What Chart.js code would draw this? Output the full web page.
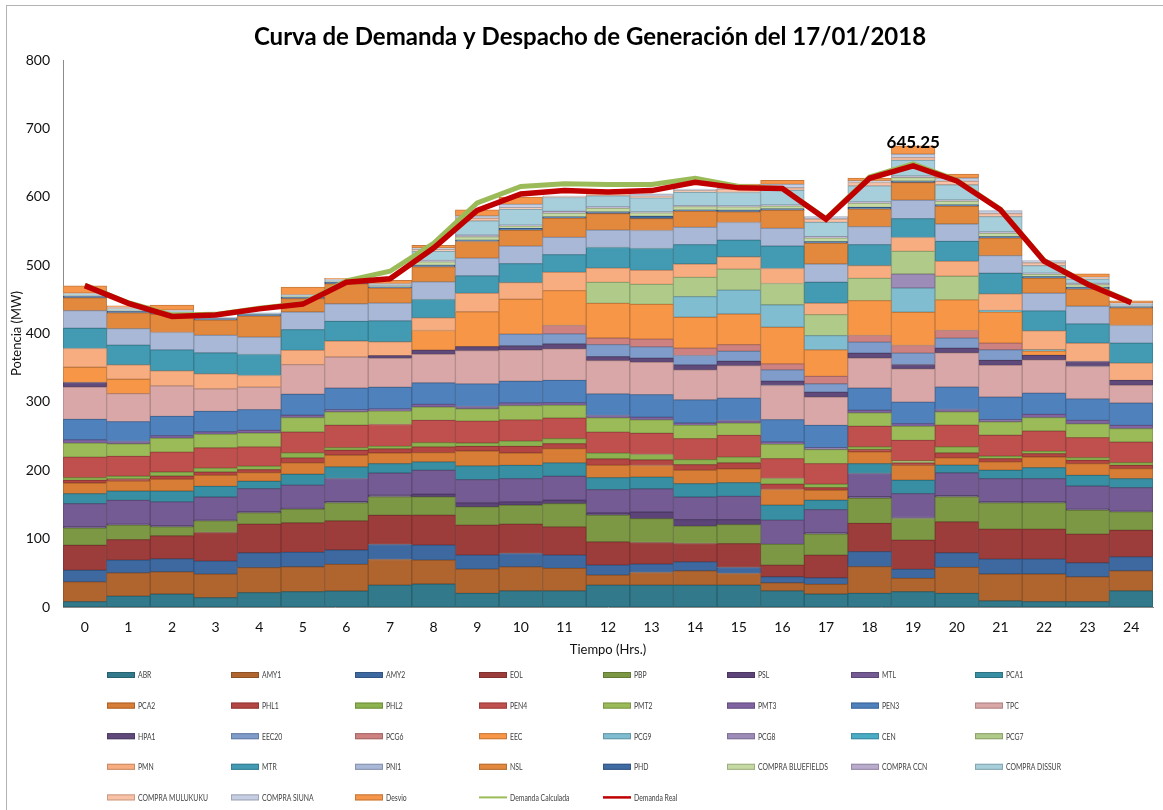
<!DOCTYPE html>
<html>
  <head>
    <meta charset="utf-8">
    <title>Curva de Demanda y Despacho</title>
    <script src="https://cdn.jsdelivr.net/npm/chart.js@4.4.1/dist/chart.umd.min.js"></script>
    <style>
      body { margin: 0; background: #fff; }
      #frame { position: absolute; left: 6px; top: 5px; width: 1180px; height: 830px; border: 1px solid #b3b3b3; }
      #wrap { position: absolute; left: 0; top: 0; width: 1163px; height: 810px; }
    </style>
  </head>
  <body>
    <div id="frame"></div>
    <div id="wrap"><canvas id="despacho" width="1163" height="810"></canvas></div>

    <script type="text/javascript">
    var horas = ["0","1","2","3","4","5","6","7","8","9","10","11","12","13","14","15","16","17","18","19","20","21","22","23","24"]

    // generacion por planta (MW), hora 0 a 24
    var abr   = [7.8,16,19,13.6,21,22.4,23.4,32,33.6,20,23.8,23.8,32,32,32,32,23.8,19,20,22.4,20,9.2,7.8,7.8,23.8]
    var amy1  = [29,34,32.6,34.5,36.5,36.5,39,37.5,35,35.5,35,32.6,14.6,18.5,21,17,11.7,14.1,39,19.5,38,39,40.4,36.5,29.2]
    var amy2  = [17,18.5,19,19,21.9,21,21,21.9,21.9,20.4,19.5,19.5,14.6,12.2,13.1,8.8,8.8,9.7,21.9,13.1,21.4,21.9,21.9,20.4,20.4]
    var eol   = [36.5,30,33.6,41.8,41.8,43.3,42.8,42.8,43.8,43.8,42.8,41.4,34,31.6,26.8,35,17,33,41.4,42.8,45.3,43.8,43.8,41.8,38.9]
    var pbp   = [25.3,21,13,17,16.5,19.5,26.3,26.8,26.8,26.8,27.7,34,39,35,25.3,27.7,30.2,30.7,36.5,31.6,36.5,38.4,38.4,35,26.8]
    var psl   = [1.5,1.5,1.5,1,1.5,1.5,1.5,2.4,3.9,5.8,4.9,4.9,3.4,9.7,9.7,7.3,0,2,2.4,1.5,1.5,1.5,1.5,1.5,1]
    var mtl   = [34,35,35,34,34,34,34,32.6,35,34,34,35,34,34,33,34,35.5,34,34,35,33.6,34,34,34,34.5]
    var pca1  = [14.6,13.6,16,15.6,10.7,16,17,13.6,12.2,20,19.5,19.5,17.5,17,19.5,20,21.9,13.6,14.6,19.5,11.2,12.2,16,15.6,13.1]
    var pca2  = [15.6,14.6,17,16,12.7,16.5,17,15.6,13.6,21.9,18,20.9,18,17,19.5,20.4,22.9,14.6,17,21.9,10.7,12.2,15.6,17,14.6]
    var phl1  = [3.9,3,4.9,4.9,4.4,7.3,7.3,6.3,8.3,6.8,9.7,7.3,9.7,8.3,8.3,8.8,7.8,3.9,3.4,3.4,7.3,4.9,4.9,4.9,4.9]
    var phl2  = [3.9,4,5.8,5.8,4.9,7.3,3.9,3.4,6.3,4.9,7.8,7.3,8.3,7.8,7.3,8.3,8.3,4.9,3.9,2.9,8.8,3.4,3.4,3.9,3.9]
    var pen4  = [30.2,29,29,29.7,28.2,30.7,32.6,32,32.6,32,31,30.2,30.7,31,30.7,31.6,29.2,30.2,30.2,30.2,31.6,30.7,29.7,29.2,30.2]
    var pmt2  = [20.4,18.5,20.4,19.5,20.4,21,19.5,19.5,19.5,18,20.9,18.5,20.9,19.5,19.5,18,20.9,20.4,19.5,20.4,19.5,19.5,19.5,20.4,19.5]
    var pmt3  = [4.9,3.4,3.9,3.9,3.9,3.4,3.4,3.4,3.9,3.4,3.9,3.9,3.4,3.9,3.4,3.9,3.4,2.9,3.9,3.9,3.4,3.4,4.9,4.9,4.9]
    var pen3  = [29.7,29,28,29.7,30.2,30.7,31.6,31.6,31.6,33,31.6,32.6,31.6,33,34,32.6,32.6,32.6,32.6,31.6,33,33,31.1,31.6,32.6]
    var tpc   = [47.2,41,44.8,33,33,43.3,45.3,42.3,41.4,48.7,45.7,46.2,48.7,47.2,43.8,47.7,50,41.4,43.8,48.7,50,46.2,48.7,47.2,25.8]
    var hpa1  = [6.8,0,0,0,0,0,0,3.9,6.3,5.8,6.3,7.3,5.8,6.3,7.3,6.3,6.3,7.3,7.3,6.3,6.8,7.3,6.3,7.3,7.3]
    var eec20 = [0,0,0,0,0,0,0,0,0,0,17,14.6,17.5,16.5,13.6,14.6,16.5,12.2,16,16.5,14.6,15.6,0,0,0]
    var pcg6  = [0,0,0,0,0,0,0,0,0,0,0,12.2,9.7,11.2,10.7,9.7,8.8,10.7,9.7,11.2,11.2,9.7,0,0,0]
    var eec   = [22.4,21,0,0,0,0,0,0,28.7,51,51,51,50.6,51,45.3,44.8,53.5,38.9,51,48.7,44.8,45.3,6.3,0,0]
    var pcg9  = [0,0,0,0,0,0,0,0,0,0,0,0,0,0,30.2,35,33,20.9,0,35.5,0,0,0,0,0]
    var pcg8  = [0,0,0,0,0,0,0,0,0,0,0,0,0,0,0,0,0,0,0,20.4,0,0,0,0,0]
    var cen   = [0,0,0,0,0,0,0,0,0,0,0,0,0,0,0,0,0,0,0,0,0,2.4,2,0,0]
    var pcg7  = [0,0,0,0,0,0,0,0,0,0,0,0,30.7,29.2,28.2,30.7,31,30.7,32.6,33,34.5,0,0,0,0]
    var pmn   = [27.3,21,21.9,21.9,17,21,23.4,20.4,18.5,26.8,24.3,26.8,20.9,20.4,19.5,18,21.9,16.5,18.5,20.4,21.9,24.3,27.7,26.8,25.3]
    var mtr   = [29.7,29,30.7,31,30.7,30.2,28.7,30.7,26.8,25.8,27.7,25.8,30.2,32,28.2,24.3,33,30.7,30.7,27.7,29.2,30.2,29.2,28.2,29.2]
    var pni1  = [25.8,24,25.3,25.3,25.3,25.8,25.8,25.8,25.8,25.8,25.8,25.3,25.3,26.3,25.3,25.8,25.8,26.8,26.3,26.8,25.3,25.8,25.8,25.8,25.8]
    var nsl   = [18.5,23,26.8,22.4,30.7,19.5,29.2,21.9,21.9,24.3,22.9,27.7,24.3,17.5,23.4,15.6,26.3,30.2,25.8,25.8,25.8,25.8,21.9,25.3,25.8]
    var phd   = [2.9,2.4,1.5,2.4,2.4,2.4,2.4,2,2.4,2,2.9,2.4,2.4,3.4,2,2.4,2.4,2.4,2.4,2.4,2.4,2,2.4,2.4,2]
    var cBluefields = [0.5,1,1,0.5,0.5,1,1,1.5,4.9,4.9,3.4,4.9,5.4,4.9,4.9,4.9,3.9,5.4,5.8,4.9,4.9,4.9,3.4,3.9,1]
    var cCcn        = [0.5,0.5,0.5,0.5,0.5,0.5,0.5,0.5,2,2.4,1.5,2.9,2,1.5,1.5,1.5,1.5,2,2.4,2.4,2,2,1.5,2,0.5]
    var cDissur     = [2,2,1.5,0,1,1,1.5,1.5,13.6,20.9,22.9,20.4,16,20.4,19.5,19.5,21.4,20.9,23.4,22.9,22.4,22.4,11.2,6.3,1.5]
    var cMulukuku   = [0.5,1,0.5,0,0,0.5,0.5,0.5,2.4,3.9,2.4,1.5,3.4,2.4,2.4,4.9,3.9,4.9,4.9,3.9,4.9,4.4,3.9,1.5,1]
    var cSiuna      = [0.5,1,1,0.5,0.5,0.5,0.5,0.5,2.4,3.4,4.9,1,3,3.4,2.4,4.9,4.9,3.4,2.4,4.9,4.9,4.4,3.4,1,1]
    var desvio      = [10.7,2.4,7.3,0,0,11.2,1.5,4.9,3.9,8.8,10.7,0,2,0,0,2.4,5.8,0,3.9,12.2,5.8,0,0,4.9,3.4]

    var demandaCalculada = [471,445,427,428,437,444,477,491,532,591,615,619,618,618,627,615,612,568,629,648,624,582,507,473,446]
    var demandaReal      = [470,444,425,427,436,443,475,480,525,580,604,609,607,609,621,613,612,567,627,645.25,623,581,506,472,445]
    var picoHora = 19

    // orden de apilado = orden de la leyenda
    var plantas = [
      ["ABR", abr, "#31798b"], ["AMY1", amy1, "#b0652f"], ["AMY2", amy2, "#3e69a0"], ["EOL", eol, "#9d3d3b"],
      ["PBP", pbp, "#7d9845"], ["PSL", psl, "#5c4479"], ["MTL", mtl, "#745b93"], ["PCA1", pca1, "#388ea3"],
      ["PCA2", pca2, "#d77d35"], ["PHL1", phl1, "#b34542"], ["PHL2", phl2, "#8cb34f"], ["PEN4", pen4, "#c0504d"],
      ["PMT2", pmt2, "#9bbb59"], ["PMT3", pmt3, "#8064a2"], ["PEN3", pen3, "#4f81bd"], ["TPC", tpc, "#d9a7a7"],
      ["HPA1", hpa1, "#604a7b"], ["EEC20", eec20, "#7f9ccb"], ["PCG6", pcg6, "#cd8180"], ["EEC", eec, "#f79646"],
      ["PCG9", pcg9, "#80bdd0"], ["PCG8", pcg8, "#9e8cb8"], ["CEN", cen, "#4bacc6"], ["PCG7", pcg7, "#afca89"],
      ["PMN", pmn, "#f8ad80"], ["MTR", mtr, "#429bb3"], ["PNI1", pni1, "#a9b8d7"], ["NSL", nsl, "#e3893e"],
      ["PHD", phd, "#3f6aa2"], ["COMPRA BLUEFIELDS", cBluefields, "#c5d9a3"], ["COMPRA CCN", cCcn, "#b9abcc"],
      ["COMPRA DISSUR", cDissur, "#a6cedb"], ["COMPRA MULUKUKU", cMulukuku, "#f9c2a6"], ["COMPRA SIUNA", cSiuna, "#c5cee2"],
      ["Desvio", desvio, "#f6964a"]
    ]

    function darker(hex, f) {
      var n = parseInt(hex.slice(1), 16)
      var r = Math.round(((n >> 16) & 255) * f), g = Math.round(((n >> 8) & 255) * f), b = Math.round((n & 255) * f)
      return "rgb(" + r + "," + g + "," + b + ")"
    }

    var datasets = plantas.map(function(p) {
      return {
        type: 'bar',
        label: p[0],
        data: p[1],
        backgroundColor: p[2],
        borderColor: darker(p[2], 0.8),
        borderWidth: 1,
        borderSkipped: false,
        order: 2
      }
    })

    datasets.push({
      type: 'line', label: "Demanda Calculada", data: demandaCalculada, stack: 'calc',
      borderColor: "#9bbb59", borderWidth: 5, pointRadius: 0, tension: 0, fill: false, order: 1
    })
    datasets.push({
      type: 'line', label: "Demanda Real", data: demandaReal, stack: 'real',
      borderColor: "#c00000", borderWidth: 5.5, pointRadius: 0, tension: 0, fill: false, order: 0
    })

    var fontFam = "Lato, 'Open Sans', sans-serif"

    // titulo, etiqueta del pico y leyenda en rejilla de 8 columnas
    var extras = {
      id: 'extras',
      afterDraw: function(chart) {
        var ctx = chart.ctx
        ctx.save()
        ctx.fillStyle = "#000"
        ctx.textAlign = 'center'
        ctx.textBaseline = 'middle'
        ctx.font = "bold 24px " + fontFam
        ctx.fillText("Curva de Demanda y Despacho de Generación del 17/01/2018", 590, 37)

        var real = chart.getDatasetMeta(chart.data.datasets.length - 1)
        var pt = real.data[picoHora]
        ctx.font = "bold 17px " + fontFam
        ctx.fillText(String(demandaReal[picoHora]), pt.x, pt.y - 23)

        ctx.textAlign = 'left'
        ctx.font = "9px " + fontFam
        chart.data.datasets.forEach(function(ds, i) {
          var col = i % 8, row = Math.floor(i / 8)
          var x = 107 + col * 124, y = 675 + row * 30.6
          if (ds.type === 'line') {
            ctx.strokeStyle = ds.borderColor
            ctx.lineWidth = ds.label === "Demanda Real" ? 2.5 : 2
            ctx.beginPath(); ctx.moveTo(x, y); ctx.lineTo(x + 28, y); ctx.stroke()
          } else {
            ctx.fillStyle = ds.backgroundColor
            ctx.fillRect(x, y - 3, 28, 6)
            ctx.strokeStyle = ds.borderColor
            ctx.lineWidth = 1
            ctx.strokeRect(x + 0.5, y - 2.5, 27, 5)
          }
          // texto estrecho, como la fuente original de la leyenda
          var w = ctx.measureText(ds.label).width
          ctx.fillStyle = "#404040"
          ctx.fillText(ds.label, x + 31, y + 0.5, w * 0.76)
        })
        ctx.restore()
      }
    }

    var chart = new Chart(document.getElementById("despacho"), {
      data: { labels: horas, datasets: datasets },
      plugins: [extras],
      options: {
        responsive: false,
        animation: false,
        layout: { padding: { top: 60, right: 10, bottom: 148, left: 0 } },
        plugins: { legend: { display: false }, title: { display: false }, tooltip: { enabled: false } },
        datasets: { bar: { barPercentage: 1, categoryPercentage: 1 } },
        scales: {
          x: {
            stacked: true,
            grid: { display: false, drawTicks: false },
            border: { display: true, color: "#8c8c8c" },
            ticks: { color: "#111", font: { family: fontFam, size: 14 }, padding: 12 },
            title: { display: true, text: "Tiempo (Hrs.)", color: "#111", font: { family: fontFam, size: 13 }, padding: { top: 4 } },
            afterFit: function(s) { s.height = 55 }
          },
          y: {
            stacked: true,
            min: 0, max: 800,
            grid: { display: false, drawTicks: false },
            border: { display: true, color: "#8c8c8c" },
            ticks: { stepSize: 100, color: "#111", font: { family: fontFam, size: 14 }, padding: 13 },
            title: { display: true, text: "Potencia (MW)", color: "#111", font: { family: fontFam, size: 13 }, padding: { top: 9, bottom: 0 } },
            afterFit: function(s) { s.width = 63 }
          }
        }
      }
    })
    </script>
  </body>
</html>
